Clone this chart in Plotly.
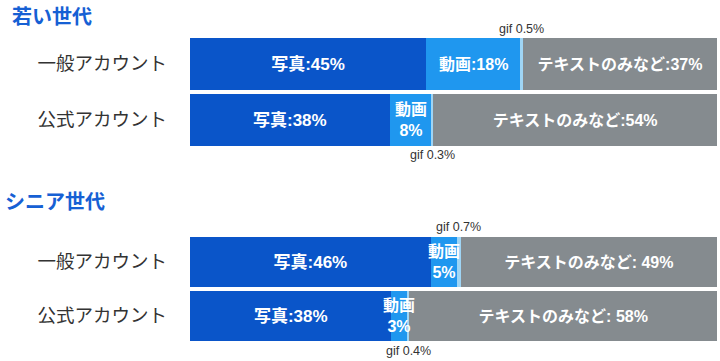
import plotly.graph_objects as go

groups = ["若い世代", "シニア世代"]
categories = ["一般アカウント", "公式アカウント"]

photo = [[45, 38], [46, 38]]
video = [[18, 8], [5, 3]]
gif = [[0.5, 0.3], [0.7, 0.4]]
textonly = [[37, 54], [49, 58]]

photo_labels = [["写真:45%", "写真:38%"], ["写真:46%", "写真:38%"]]
video_labels = [["動画:18%", "動画<br>8%"], ["動画<br>5%", "動画<br>3%"]]
gif_labels = [["gif 0.5%", "gif 0.3%"], ["gif 0.7%", "gif 0.4%"]]
text_labels = [["テキストのみなど:37%", "テキストのみなど:54%"],
               ["テキストのみなど: 49%", "テキストのみなど: 58%"]]

C_PHOTO = "#0a55c9"
C_VIDEO = "#1f97ef"
C_GIF = "#9fd5f5"
C_TEXT = "#858b8f"
C_TITLE = "#1660d4"

FONT = "Liberation Sans, Noto Sans CJK JP, sans-serif"
W, H = 720, 361

fig = go.Figure()

annotations = []
for g in range(2):
    xa = "x" if g == 0 else "x2"
    ya = "y" if g == 0 else "y2"
    common = dict(orientation="h", y=categories, xaxis=xa, yaxis=ya,
                  showlegend=False, hoverinfo="skip", marker_line_width=0)
    fig.add_trace(go.Bar(x=photo[g], marker_color=C_PHOTO, text=photo_labels[g],
                         textposition="inside", insidetextanchor="middle",
                         textangle=0, constraintext="none",
                         textfont=dict(family=FONT, size=17, color="white", weight="bold"),
                         **common))
    fig.add_trace(go.Bar(x=video[g], marker_color=C_VIDEO, textposition="none", **common))
    fig.add_trace(go.Bar(x=gif[g], marker_color=C_GIF, textposition="none", **common))
    fig.add_trace(go.Bar(x=textonly[g], marker_color=C_TEXT, text=text_labels[g],
                         textposition="inside", insidetextanchor="middle",
                         textangle=0, constraintext="none",
                         textfont=dict(family=FONT, size=16, color="white", weight="bold"),
                         **common))
    for i in range(2):
        total = photo[g][i] + video[g][i] + gif[g][i] + textonly[g][i]
        vx = (photo[g][i] + video[g][i] / 2) / total * 100
        gx = (photo[g][i] + video[g][i] + gif[g][i] / 2) / total * 100
        annotations.append(dict(x=vx, y=i, xref=xa, yref=ya, text=video_labels[g][i],
                                showarrow=False, xanchor="center", yanchor="middle",
                                font=dict(family=FONT, size=16, color="white", weight="bold")))
        above = (i == 0)
        annotations.append(dict(x=gx, y=i, xref=xa, yref=ya, text=gif_labels[g][i],
                                showarrow=False, xanchor="center",
                                yanchor="bottom" if above else "top",
                                yshift=26 if above else -26,
                                font=dict(family=FONT, size=12.5, color="#333333")))

annotations.append(dict(x=10 / W, y=1 - 15 / H, xref="paper", yref="paper", text="<b>若い世代</b>",
                        showarrow=False, xanchor="left", yanchor="middle",
                        font=dict(family="Noto Sans CJK JP", size=20, color=C_TITLE)))
annotations.append(dict(x=3 / W, y=1 - 200 / H, xref="paper", yref="paper", text="<b>シニア世代</b>",
                        showarrow=False, xanchor="left", yanchor="middle",
                        font=dict(family="Noto Sans CJK JP", size=20, color=C_TITLE)))

xdom = [190 / W, 717 / W]
xcommon = dict(domain=xdom, showgrid=False, zeroline=False, showticklabels=False,
               showline=False, ticks="", range=[0, 100], fixedrange=True)
ycommon = dict(showgrid=False, zeroline=False, showline=False, ticks="",
               autorange="reversed", automargin=False, ticklabelstandoff=22,
               tickfont=dict(family="Noto Sans CJK JP", size=18.5, color="#333333"))

fig.update_layout(
    width=W, height=H,
    margin=dict(l=0, r=0, t=0, b=0),
    template="none",
    paper_bgcolor="white", plot_bgcolor="white",
    barmode="stack", barnorm="percent", bargap=0.075,
    xaxis=dict(anchor="y", **xcommon),
    xaxis2=dict(anchor="y2", **xcommon),
    yaxis=dict(anchor="x", domain=[1 - 148 / H, 1 - 36 / H], **ycommon),
    yaxis2=dict(anchor="x2", domain=[1 - 343 / H, 1 - 235 / H], **ycommon),
    annotations=annotations,
)

fig.write_html("out.html", config={"displayModeBar": False},
               post_script="document.body.style.margin='0';document.body.style.overflow='hidden';")
